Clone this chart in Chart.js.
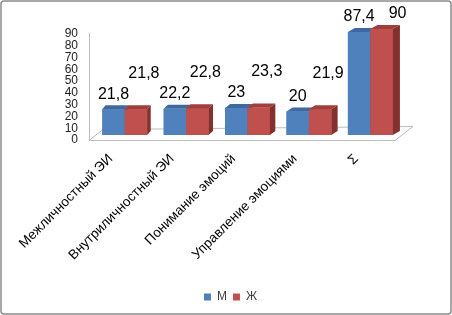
<!DOCTYPE html>
<html>
<head>
<meta charset="utf-8">
<script src="https://cdn.jsdelivr.net/npm/chart.js@4/dist/chart.umd.min.js"></script>
<style>
  html, body { margin: 0; padding: 0; background: #fff; }
  #wrap { width: 452px; height: 315px; }
</style>
</head>
<body>
<div id="wrap"><canvas id="myChart" width="452" height="315"></canvas></div>
<script>
// DATA
const categories = ["Межличностный ЭИ", "Внутриличностный ЭИ", "Понимание эмоций", "Управление эмоциями", "Σ"];
const seriesNames = ["М", "Ж"];
const valuesM = [21.8, 22.2, 23, 20, 87.4];
const valuesZh = [21.8, 22.8, 23.3, 21.9, 90];
const yMin = 0, yMax = 90, yStep = 10;

// 3D look: front, top and side colours per series
const faces = [
    { front: "#4F81BD", top: "#3E68A0", side: "#385D8A" },
    { front: "#C0504D", top: "#A03E3B", side: "#83302E" },
];
const lift = 5; // bars stand in the middle of the floor depth

const fmt = v => String(v).replace(".", ",");

const threeD = {
    id: "threeD",
    beforeDraw(chart) {
        const ctx = chart.ctx;
        const a = chart.chartArea;
        const y0 = chart.scales.y.getPixelForValue(0);
        ctx.save();
        // outer frame
        ctx.strokeStyle = "#8c8c8c";
        ctx.lineWidth = 1.5;
        ctx.beginPath();
        ctx.roundRect(1, 1, 450, 313, 3);
        ctx.stroke();
        // floor
        ctx.strokeStyle = "#bcbcbc";
        ctx.lineWidth = 1;
        ctx.beginPath();
        ctx.moveTo(a.left - 5, y0 + 0.5);
        ctx.lineTo(a.right - 6, y0 + 0.5);
        ctx.lineTo(a.right + 12, y0 - 13.5);
        ctx.lineTo(a.left + 9, y0 - 10.5);
        ctx.closePath();
        ctx.stroke();
        // wall edge
        ctx.beginPath();
        ctx.moveTo(a.left - 4.5, a.top - 1);
        ctx.lineTo(a.left - 4.5, y0);
        ctx.stroke();
        ctx.restore();
    },
    beforeDatasetsDraw(chart) {
        chart.ctx.save();
        chart.ctx.translate(0, -lift);
    },
    afterDatasetsDraw(chart) {
        const ctx = chart.ctx;
        const a = chart.chartArea;
        const depth = x => 3 + 4.5 * (x - a.left) / (a.right - a.left);
        const dy = 4;
        for (let i = 0; i < categories.length; i++) {
            for (let d = 0; d < 2; d++) {
                const el = chart.getDatasetMeta(d).data[i];
                const p = el.getProps(["x", "y", "base", "width"], true);
                const l = p.x - p.width / 2, r = p.x + p.width / 2;
                const dx = depth(p.x);
                const f = faces[d];
                ctx.fillStyle = f.front;
                ctx.fillRect(l, p.y, r - l, p.base - p.y);
                ctx.fillStyle = f.top;
                ctx.beginPath();
                ctx.moveTo(l, p.y);
                ctx.lineTo(l + dx, p.y - dy);
                ctx.lineTo(r + dx, p.y - dy);
                ctx.lineTo(r, p.y);
                ctx.closePath();
                ctx.fill();
                ctx.fillStyle = f.side;
                ctx.beginPath();
                ctx.moveTo(r, p.y);
                ctx.lineTo(r + dx, p.y - dy);
                ctx.lineTo(r + dx, p.base - dy);
                ctx.lineTo(r, p.base);
                ctx.closePath();
                ctx.fill();
            }
        }
        ctx.restore();

        // data labels
        ctx.save();
        ctx.font = "16px 'Liberation Sans', Arial, sans-serif";
        ctx.fillStyle = "#000";
        ctx.textAlign = "center";
        ctx.textBaseline = "middle";
        for (let i = 0; i < categories.length; i++) {
            const b = chart.getDatasetMeta(0).data[i];
            const r = chart.getDatasetMeta(1).data[i];
            const tb = fmt(valuesM[i]), tr = fmt(valuesZh[i]);
            const by = b.y - lift - 15;
            ctx.fillText(tb, b.x, by);
            let rx = r.x + 8;
            let ry = r.y - lift - 36;
            if (ry < 14) {
                ry = 14;
                const bRight = b.x + ctx.measureText(tb).width / 2;
                rx = Math.max(rx, bRight + 14 + ctx.measureText(tr).width / 2);
            }
            ctx.fillText(tr, rx, ry);
        }
        ctx.restore();
    },
};

const data = {
    labels: categories,
    datasets: [
        { label: seriesNames[0], data: valuesM, backgroundColor: faces[0].front, clip: false },
        { label: seriesNames[1], data: valuesZh, backgroundColor: faces[1].front, clip: false },
    ],
};

const config = {
    type: "bar",
    data: data,
    options: {
        responsive: false,
        animation: false,
        layout: { padding: { top: 34, left: 60, right: 51, bottom: 2 } },
        datasets: { bar: { categoryPercentage: 0.73, barPercentage: 1 } },
        scales: {
            x: {
                grid: { display: false, drawTicks: false },
                border: { display: false },
                ticks: {
                    color: "#000",
                    font: { family: "'Liberation Sans', Arial, sans-serif", size: 13.5 },
                    minRotation: 45,
                    maxRotation: 45,
                    padding: 11,
                    labelOffset: -14,
                    autoSkip: false,
                },
                afterFit: s => { s.height = 145; },
            },
            y: {
                min: yMin,
                max: yMax,
                grid: { display: false, drawTicks: false },
                border: { display: false },
                ticks: {
                    stepSize: yStep,
                    autoSkip: false,
                    color: "#222",
                    font: { family: "'Liberation Sans', Arial, sans-serif", size: 12 },
                    padding: 16,
                },
                afterFit: s => { s.width = 34; },
            },
        },
        plugins: {
            tooltip: { enabled: false },
            legend: {
                position: "bottom",
                labels: {
                    boxWidth: 7,
                    boxHeight: 7,
                    padding: 6,
                    color: "#404040",
                    font: { family: "'Liberation Sans', Arial, sans-serif", size: 12 },
                },
            },
        },
    },
    plugins: [threeD],
};

function drawChart() {
    const ctx = document.getElementById("myChart");
    new Chart(ctx, config);
}

drawChart();
</script>
</body>
</html>
